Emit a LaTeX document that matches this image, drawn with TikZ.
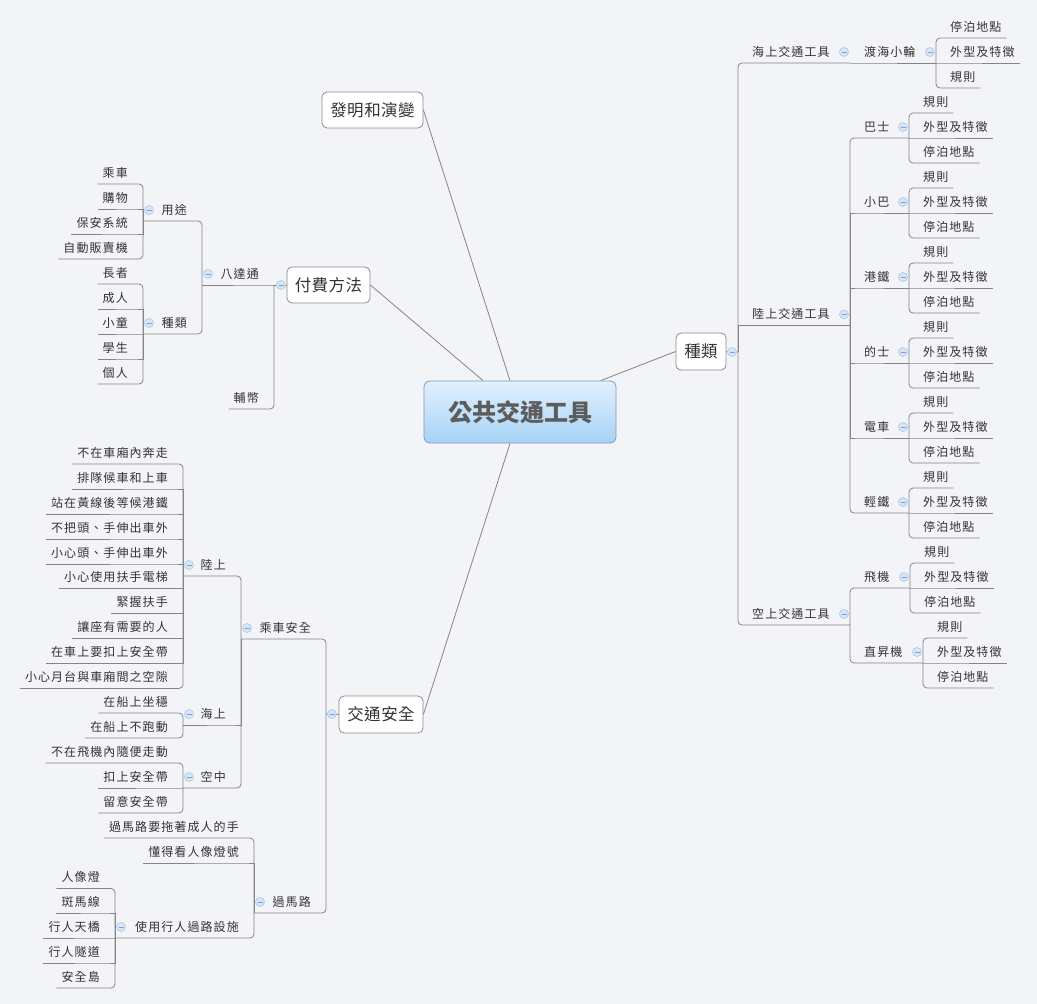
\documentclass[tikz,border=0pt]{standalone}
\usepackage{fontspec}
\setmainfont{Noto Sans CJK TC}
\newfontfamily\lfont{Noto Sans CJK TC}[LetterSpace=9]
\newfontfamily\boxfont{Noto Sans CJK TC}[LetterSpace=3]
\definecolor{bg}{HTML}{F3F4F8}
\definecolor{lc}{HTML}{858585}
\definecolor{bc}{HTML}{8C8C8C}
\definecolor{tc}{HTML}{333333}
\definecolor{icf}{HTML}{D8E5F7}
\definecolor{icl}{HTML}{AFC5E8}
\definecolor{icm}{HTML}{7F9FD2}
\definecolor{ctop}{HTML}{E2F1FD}
\definecolor{cbot}{HTML}{A6D2F5}
\definecolor{cbd}{HTML}{7A9BB8}
\tikzset{
  conn/.style={draw=lc, line width=0.8pt, rounded corners=4pt},
  leaf/.style={font=\lfont\fontsize{12}{12}\selectfont, text=tc, inner xsep=5pt, inner ysep=5pt, text height=10.56pt, text depth=1.44pt},
  boxn/.style={draw=bc, line width=0.8pt, fill=white, rounded corners=5pt, font=\boxfont\fontsize{16.5}{16.5}\selectfont, text=tc, text height=14.5pt, text depth=2pt, inner sep=0pt},
  cen/.style={draw=cbd, line width=0.8pt, rounded corners=6pt, top color=ctop, bottom color=cbot, font=\fontsize{24}{24}\selectfont\bfseries, text=tc!80, text height=21.1pt, text depth=2.9pt, inner sep=0pt, minimum width=192pt, minimum height=62pt}
}
\newcommand\icon[1]{\filldraw[fill=icf, draw=icl, line width=0.6pt] #1 circle[radius=4.5pt]; \draw[icm, line width=0.9pt] #1 ++(-2.5,0) -- ++(5,0);}
% right side
\newcommand\RLeaf[6][]{\node[leaf,anchor=south west] (#2) at ({#4+9},{#5}) {#6};
  \draw[conn,#1] (#3) |- (#2.south west) -- (#2.south east);}
\newcommand\RMid[7][]{\node[leaf,anchor=south west] (#2) at ({#4+9},{#6}) {#7};
  \coordinate (#2J) at ({#5},{#6});
  \draw[conn,#1] (#3) |- (#2.south west) -- (#2J);
  \icon{([shift={(-6,-11)}]#2J)}}
\newcommand\RGrp[7][]{\RMid[#1]{#2}{#3}{#4}{#5}{#6}{#7}
  \RLeaf{#2a}{#2J}{#5}{#6-25}{規則}
  \RLeaf[sharp corners]{#2b}{#2J}{#5}{#6}{外型及特徵}
  \RLeaf{#2c}{#2J}{#5}{#6+25}{停泊地點}}
% left side
\newcommand\LLeaf[6][]{\node[leaf,anchor=south east] (#2) at ({#4-10},{#5}) {#6};
  \draw[conn,#1] (#3) |- (#2.south east) -- (#2.south west);}
\newcommand\LMid[7][]{\node[leaf,anchor=south east] (#2) at ({#4-10},{#6}) {#7};
  \coordinate (#2J) at ({#5},{#6});
  \draw[conn,#1] (#3) |- (#2.south east) -- (#2J);
  \icon{([shift={(6,-11)}]#2J)}}
\begin{document}
\begin{tikzpicture}[x=1pt,y=-1pt]
\useasboundingbox (0,0) rectangle (1037,1004);
\fill[bg] (0,0) rectangle (1037,1004);
% main nodes
\node[cen] (C) at (520,412) {公共交通工具};
\node[boxn, minimum width=101pt, minimum height=36pt] (invent) at (372.5,110) {發明和演變};
\node[boxn, minimum width=83pt, minimum height=36pt] (pay) at (328.5,285) {付費方法};
\node[boxn, minimum width=50pt, minimum height=37pt] (kind) at (701,351.5) {種類};
\node[boxn, minimum width=84pt, minimum height=37pt] (safety) at (381,714.5) {交通安全};
\draw[conn] (C) -- (invent.east);
\draw[conn] (C) -- (pay.east);
\draw[conn] (C) -- (kind.west);
\draw[conn] (C) -- (safety.east);
% ---------- right: 種類
\coordinate (kindJ) at (738,352);
\draw[conn] (kind.east) -- (kindJ);
\icon{(732,352)}
\RMid{sea}{kindJ}{738}{850}{63}{海上交通工具}
\RMid[sharp corners]{land}{kindJ}{738}{850}{325.5}{陸上交通工具}
\RMid{air}{kindJ}{738}{850}{625}{空上交通工具}
\RMid[sharp corners]{ferry}{seaJ}{850}{936}{63}{渡海小輪}
\RLeaf{fa}{ferryJ}{936}{38}{停泊地點}
\RLeaf[sharp corners]{fb}{ferryJ}{936}{63}{外型及特徵}
\RLeaf{fc}{ferryJ}{936}{88}{規則}
\RGrp{bus}{landJ}{850}{909}{138}{巴士}
\RGrp[sharp corners]{mini}{landJ}{850}{909}{213}{小巴}
\RGrp[sharp corners]{mtr}{landJ}{850}{909}{288}{港鐵}
\RGrp[sharp corners]{taxi}{landJ}{850}{909}{363}{的士}
\RGrp[sharp corners]{tram}{landJ}{850}{909}{438}{電車}
\RGrp{lrt}{landJ}{850}{909}{513}{輕鐵}
\RGrp{plane}{airJ}{850}{910}{588}{飛機}
\RGrp{heli}{airJ}{850}{923}{663}{直昇機}
% ---------- left top: 付費方法
\coordinate (payJ) at (274,285);
\draw[conn] (pay.west) -- (payJ);
\icon{(281,285)}
\LMid[sharp corners]{oct}{payJ}{274}{202}{285}{八達通}
\LLeaf{coin}{payJ}{274}{409}{輔幣}
\LMid{use}{octJ}{202}{143}{221}{用途}
\LMid{ptype}{octJ}{202}{143}{334}{種類}
\LLeaf{ua}{useJ}{143}{184}{乘車}
\LLeaf[sharp corners]{ub}{useJ}{143}{209}{購物}
\LLeaf[sharp corners]{uc}{useJ}{143}{234}{保安系統}
\LLeaf{ud}{useJ}{143}{259}{自動販賣機}
\LLeaf{ta}{ptypeJ}{143}{284}{長者}
\LLeaf[sharp corners]{tb}{ptypeJ}{143}{309}{成人}
\LLeaf[sharp corners]{tcc}{ptypeJ}{143}{334}{小童}
\LLeaf[sharp corners]{td}{ptypeJ}{143}{359}{學生}
\LLeaf{te}{ptypeJ}{143}{384}{個人}
% ---------- left bottom: 交通安全
\coordinate (safeJ) at (326,714);
\draw[conn] (safety.west) -- (safeJ);
\icon{(332,714)}
\LMid{ride}{safeJ}{326}{241}{639}{乘車安全}
\LMid{road}{safeJ}{326}{254}{913}{過馬路}
\LMid{landb}{rideJ}{241}{183}{576}{陸上}
\LMid[sharp corners]{seab}{rideJ}{241}{183}{725}{海上}
\LMid{airb}{rideJ}{241}{183}{788}{空中}
\LLeaf{la}{landbJ}{183}{464}{不在車廂內奔走}
\LLeaf[sharp corners]{lb}{landbJ}{183}{489}{排隊候車和上車}
\LLeaf[sharp corners]{lcc}{landbJ}{183}{514}{站在黃線後等候港鐵}
\LLeaf[sharp corners]{ld}{landbJ}{183}{539}{不把頭、手伸出車外}
\LLeaf[sharp corners]{le}{landbJ}{183}{564}{小心頭、手伸出車外}
\LLeaf[sharp corners]{lf}{landbJ}{183}{588.5}{小心使用扶手電梯}
\LLeaf[sharp corners]{lg}{landbJ}{183}{613.5}{緊握扶手}
\LLeaf[sharp corners]{lh}{landbJ}{183}{638.5}{讓座有需要的人}
\LLeaf[sharp corners]{li}{landbJ}{183}{663.5}{在車上要扣上安全帶}
\LLeaf{lj}{landbJ}{183}{688.5}{小心月台與車廂間之空隙}
\LLeaf{sa}{seabJ}{183}{713}{在船上坐穩}
\LLeaf{sb}{seabJ}{183}{738}{在船上不跑動}
\LLeaf{aa}{airbJ}{183}{763}{不在飛機內隨便走動}
\LLeaf[sharp corners]{ab}{airbJ}{183}{788}{扣上安全帶}
\LLeaf{ac}{airbJ}{183}{813}{留意安全帶}
\LLeaf{ra}{roadJ}{254}{838}{過馬路要拖著成人的手}
\LLeaf[sharp corners]{rb}{roadJ}{254}{863}{懂得看人像燈號}
\LMid{fac}{roadJ}{254}{115}{938}{使用行人過路設施}
\LLeaf{fa2}{facJ}{115}{888.5}{人像燈}
\LLeaf[sharp corners]{fb2}{facJ}{115}{913}{斑馬線}
\LLeaf[sharp corners]{fc2}{facJ}{115}{938}{行人天橋}
\LLeaf[sharp corners]{fd2}{facJ}{115}{963}{行人隧道}
\LLeaf{fe2}{facJ}{115}{988}{安全島}
\end{tikzpicture}
\end{document}
